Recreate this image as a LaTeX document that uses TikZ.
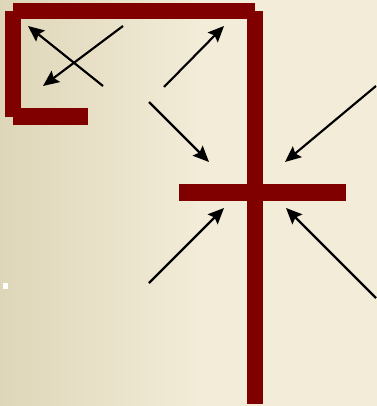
\documentclass[tikz,border=0pt]{standalone}
\usetikzlibrary{arrows.meta}
\definecolor{bar}{RGB}{128,0,0}
\definecolor{bgleft}{RGB}{222,214,184}
\definecolor{bgright}{RGB}{242,236,216}
\tikzset{
  barfill/.style={fill=bar, draw=none},
  arr/.style={line width=1.6pt, -{Stealth[length=12pt, width=10.5pt, inset=2pt]}, black}
}
\begin{document}
\begin{tikzpicture}[x=0.75pt, y=-0.75pt]
\useasboundingbox (0,0) rectangle (377,406);
% background
\shade[left color=bgleft, right color=bgright] (0,0) rectangle (200,406);
\fill[bgright] (199.5,0) rectangle (377,406);
% bars
\fill[barfill] (13,3) rectangle (255,19);
\fill[barfill] (5,11) rectangle (21,117);
\fill[barfill] (13,108) rectangle (88,125);
\fill[barfill] (247,11) rectangle (263,404);
\fill[barfill] (179,184) rectangle (346,201);
% small white marker
\fill[white] (3,283) rectangle (8,289);
% arrows
\coordinate (a1s) at (103,86);  \coordinate (a1e) at (28,26);
\coordinate (a2s) at (123,26);  \coordinate (a2e) at (43,86);
\coordinate (a3s) at (164,87);  \coordinate (a3e) at (224,26);
\coordinate (a4s) at (149,102); \coordinate (a4e) at (209,162);
\coordinate (a5s) at (376,86);  \coordinate (a5e) at (285,162);
\coordinate (a6s) at (149,283); \coordinate (a6e) at (224,208);
\coordinate (a7s) at (376,298); \coordinate (a7e) at (286,208);
\draw[arr] (a1s) -- (a1e);
\draw[arr] (a2s) -- (a2e);
\draw[arr] (a3s) -- (a3e);
\draw[arr] (a4s) -- (a4e);
\draw[arr] (a5s) -- (a5e);
\draw[arr] (a6s) -- (a6e);
\draw[arr] (a7s) -- (a7e);
\end{tikzpicture}
\end{document}
